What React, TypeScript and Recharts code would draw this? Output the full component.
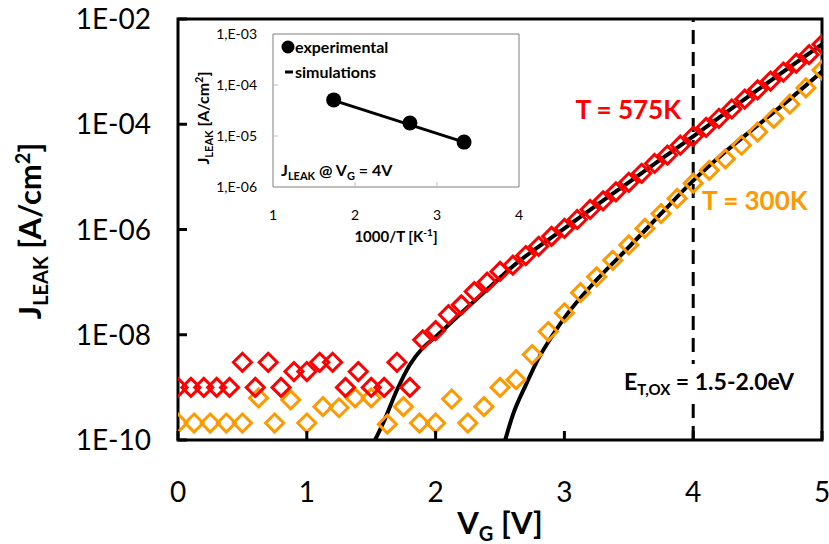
import React from 'react';
import {
  ComposedChart,
  XAxis,
  YAxis,
  Scatter,
  Line,
  ReferenceArea,
  ReferenceLine,
} from 'recharts';

// Leakage current density vs gate voltage, measured at two temperatures
const RED_V = [
  0, 0.1, 0.2, 0.3, 0.4, 0.5, 0.6, 0.7, 0.8, 0.9,
  1.0, 1.1, 1.2, 1.3, 1.4, 1.5, 1.6, 1.7, 1.8, 1.9,
  2.0, 2.1, 2.2, 2.3, 2.4, 2.5, 2.6, 2.7, 2.8, 2.9,
  3.0, 3.1, 3.2, 3.3, 3.4, 3.5, 3.6, 3.7, 3.8, 3.9,
  4.0, 4.1, 4.2, 4.3, 4.4, 4.5, 4.6, 4.7, 4.8, 4.9,
  5.0,
];
const RED_J = [
  1e-9, 1e-9, 1e-9, 1e-9, 1e-9, 3e-9, 1e-9, 3e-9, 1e-9, 2e-9,
  2e-9, 3e-9, 3e-9, 1e-9, 2e-9, 1e-9, 1e-9, 3e-9, 1e-9, 8e-9,
  1.2e-8, 2.4e-8, 3.7e-8, 6.6e-8, 1.0e-7, 1.6e-7, 2.1e-7, 3.2e-7, 4.8e-7, 7.4e-7,
  1.05e-6, 1.55e-6, 2.4e-6, 3.5e-6, 5.2e-6, 7.9e-6, 1.17e-5, 1.8e-5, 2.6e-5, 4.0e-5,
  5.9e-5, 8.7e-5, 1.3e-4, 1.95e-4, 3.0e-4, 4.5e-4, 6.6e-4, 9.8e-4, 1.45e-3, 2.1e-3,
  3.3e-3,
];

const ORANGE_V = [
  0, 0.125, 0.25, 0.375, 0.5, 0.625, 0.75, 0.875,
  1.0, 1.125, 1.25, 1.375, 1.5, 1.625, 1.75, 1.875,
  2.0, 2.125, 2.25, 2.375, 2.5, 2.625, 2.75, 2.875,
  3.0, 3.125, 3.25, 3.375, 3.5, 3.625, 3.75, 3.875,
  4.0, 4.125, 4.25, 4.375, 4.5, 4.625, 4.75, 4.875,
  5.0,
];
const ORANGE_J = [
  2.1e-10, 2.1e-10, 2.1e-10, 2.1e-10, 2.1e-10, 6.3e-10, 2.1e-10, 5.8e-10,
  2.1e-10, 4.3e-10, 4.1e-10, 6.3e-10, 6.3e-10, 2.0e-10, 4.3e-10, 2.1e-10,
  2.1e-10, 6.0e-10, 2.1e-10, 4.3e-10, 1.0e-9, 1.4e-9, 4.2e-9, 1.15e-8,
  2.6e-8, 6.3e-8, 1.26e-7, 2.6e-7, 5.1e-7, 1.05e-6, 2.0e-6, 3.9e-6,
  7.6e-6, 1.33e-5, 2.2e-5, 4.0e-5, 7.1e-5, 1.3e-4, 2.4e-4, 4.9e-4,
  1.07e-3,
];

// simulated curves
const SIM575_V = [1.53, 1.6, 1.7, 1.8, 1.9, 2.0, 2.2, 2.4, 2.6, 3.0, 3.5, 4.0, 4.5, 5.0];
const SIM575_J = [1e-10, 2.3e-10, 8.9e-10, 2.7e-9, 5.6e-9, 9.1e-9, 2.6e-8, 7.2e-8, 2.0e-7, 1.05e-6, 7.9e-6, 5.9e-5, 4.5e-4, 3.3e-3];
const SIM300_V = [2.54, 2.6, 2.7, 2.8, 2.9, 3.0, 3.25, 3.5, 3.75, 4.0, 4.25, 4.5, 4.75, 5.0];
const SIM300_J = [1e-10, 3.0e-10, 1.1e-9, 3.6e-9, 9.1e-9, 2.1e-8, 1.1e-7, 4.6e-7, 2.0e-6, 8.5e-6, 3.0e-5, 9.5e-5, 3.0e-4, 1.0e-3];

const X_TICKS = [0, 1, 2, 3, 4, 5];
const X_TICK_LABELS = ['0', '1', '2', '3', '4', '5'];
const Y_TICKS = [1e-10, 1e-8, 1e-6, 1e-4, 1e-2];
const Y_TICK_LABELS = ['1E-10', '1E-08', '1E-06', '1E-04', '1E-02'];

// inset: J at VG = 4V vs 1000/T
const INSET_T = [1.74, 2.67, 3.33];
const INSET_J = [5.1e-5, 1.8e-5, 7.6e-6];
const INSET_SIM_T = [1.74, 3.33];
const INSET_SIM_J = [5.0e-5, 7.6e-6];
const INSET_X_TICKS = [1, 2, 3, 4];
const INSET_X_LABELS = ['1', '2', '3', '4'];
const INSET_Y_TICKS = [1e-6, 1e-5, 1e-4, 1e-3];
const INSET_Y_LABELS = ['1,E-06', '1,E-05', '1,E-04', '1,E-03'];

const FONT = "Lato, 'Open Sans', sans-serif";
const RED = '#ff0000';
const ORANGE = '#ff9900';

const toPoints = (xs: number[], ys: number[], key = 'v') => xs.map((x, i) => ({ [key]: x, j: ys[i] }));

const redData = toPoints(RED_V, RED_J);
const orangeData = toPoints(ORANGE_V, ORANGE_J);
const sim575 = toPoints(SIM575_V, SIM575_J);
const sim300 = toPoints(SIM300_V, SIM300_J);
const insetExp = toPoints(INSET_T, INSET_J, 't');
const insetSim = toPoints(INSET_SIM_T, INSET_SIM_J, 't');

const diamond = (color: string) => (props: any) => {
  const { cx, cy } = props;
  if (cx == null || cy == null) return <g />;
  const r = 9;
  return (
    <path
      d={`M${cx},${cy - r}L${cx + r},${cy}L${cx},${cy + r}L${cx - r},${cy}Z`}
      fill="none"
      stroke={color}
      strokeWidth={3}
    />
  );
};

const XTick = (props: any) => {
  const { x, y, index } = props;
  return (
    <g>
      <line x1={x} x2={x} y1={y} y2={y - 9} stroke="#000" strokeWidth={3} />
      <text x={x} y={y + 62} textAnchor="middle" fontFamily={FONT} fontSize={28} fill="#000">
        {X_TICK_LABELS[index]}
      </text>
    </g>
  );
};

const YTick = (props: any) => {
  const { x, y, index } = props;
  return (
    <g>
      <line x1={x} x2={x + 9} y1={y} y2={y} stroke="#000" strokeWidth={3} />
      <text x={x - 27} y={y + 10} textAnchor="end" fontFamily={FONT} fontSize={28} fill="#000">
        {Y_TICK_LABELS[index]}
      </text>
    </g>
  );
};

const InsetXTick = (props: any) => {
  const { x, y, index } = props;
  return (
    <g>
      {index > 0 && index < INSET_X_TICKS.length - 1 && (
        <line x1={x} x2={x} y1={y} y2={y - 5} stroke="#bfbfbf" strokeWidth={1} />
      )}
      <text x={x} y={y + 33} textAnchor="middle" fontFamily={FONT} fontSize={14} fill="#000">
        {INSET_X_LABELS[index]}
      </text>
    </g>
  );
};

const InsetYTick = (props: any) => {
  const { x, y, index } = props;
  return (
    <g>
      {index > 0 && index < INSET_Y_TICKS.length - 1 && (
        <line x1={x} x2={x + 5} y1={y} y2={y} stroke="#bfbfbf" strokeWidth={1} />
      )}
      <text x={x - 16} y={y + 5} textAnchor="end" fontFamily={FONT} fontSize={14} fill="#000">
        {INSET_Y_LABELS[index]}
      </text>
    </g>
  );
};

const insetDot = (props: any) => {
  const { cx, cy } = props;
  if (cx == null || cy == null) return <g />;
  return <circle cx={cx} cy={cy} r={7.5} fill="#000" />;
};

export default function App() {
  return (
    <div style={{ position: 'absolute', left: 0, top: 0, width: 829, height: 544, background: '#fff', fontFamily: FONT }}>
      <ComposedChart width={829} height={544} margin={{ top: 19, right: 7, bottom: 0, left: 0 }}>
        <XAxis
          type="number"
          dataKey="v"
          domain={[0, 5]}
          ticks={X_TICKS}
          interval={0}
          height={104}
          axisLine={false}
          tickLine={false}
          tickSize={0}
          tickMargin={0}
          tick={<XTick />}
          allowDataOverflow
        />
        <YAxis
          type="number"
          dataKey="j"
          scale="log"
          domain={[1e-10, 1e-2]}
          ticks={Y_TICKS}
          interval={0}
          width={178}
          axisLine={false}
          tickLine={false}
          tickSize={0}
          tickMargin={0}
          tick={<YTick />}
          allowDataOverflow
        />
        <ReferenceArea x1={0} x2={5} y1={1e-10} y2={1e-2} fill="none" stroke="#000" strokeWidth={3} ifOverflow="visible" />
        <ReferenceLine x={4} stroke="#000" strokeWidth={3} strokeDasharray="14 8" />
        <Line data={sim575} dataKey="j" type="monotone" stroke="#000" strokeWidth={4} dot={false} isAnimationActive={false} />
        <Line data={sim300} dataKey="j" type="monotone" stroke="#000" strokeWidth={4} dot={false} isAnimationActive={false} />
        <Scatter data={orangeData} dataKey="j" shape={diamond(ORANGE)} isAnimationActive={false} />
        <Scatter data={redData} dataKey="j" shape={diamond(RED)} isAnimationActive={false} />
      </ComposedChart>

      <div style={{ position: 'absolute', left: 180, top: 20 }}>
        <ComposedChart width={345} height={230} margin={{ top: 14, right: 6, bottom: 0, left: 0 }}>
          <XAxis
            type="number"
            dataKey="t"
            domain={[1, 4]}
            ticks={INSET_X_TICKS}
            interval={0}
            height={63}
            axisLine={false}
            tickLine={false}
            tickSize={0}
            tickMargin={0}
            tick={<InsetXTick />}
          />
          <YAxis
            type="number"
            dataKey="j"
            scale="log"
            domain={[1e-6, 1e-3]}
            ticks={INSET_Y_TICKS}
            interval={0}
            width={93}
            axisLine={false}
            tickLine={false}
            tickSize={0}
            tickMargin={0}
            tick={<InsetYTick />}
            allowDataOverflow
          />
          <ReferenceArea x1={1} x2={4} y1={1e-6} y2={1e-3} fill="none" stroke="#7f7f7f" strokeWidth={1} ifOverflow="visible" />
          <Line data={insetSim} dataKey="j" stroke="#000" strokeWidth={3} dot={false} isAnimationActive={false} />
          <Scatter data={insetExp} dataKey="j" shape={insetDot} isAnimationActive={false} />
        </ComposedChart>
      </div>

      <svg width={829} height={544} style={{ position: 'absolute', left: 0, top: 0, pointerEvents: 'none' }} fontFamily={FONT}>
        {/* axis titles */}
        <text transform="translate(41,231) rotate(-90)" textAnchor="middle" fontSize={31} fontWeight={700}>
          J<tspan dy={7} fontSize={20}>LEAK</tspan>
          <tspan dy={-7}> [A/cm</tspan>
          <tspan dy={-11} fontSize={20}>2</tspan>
          <tspan dy={11}>]</tspan>
        </text>
        <text x={500} y={534} textAnchor="middle" fontSize={31} fontWeight={700}>
          V<tspan dy={7} fontSize={20}>G</tspan>
          <tspan dy={-7}> [V]</tspan>
        </text>

        {/* annotations */}
        <text x={681} y={119} textAnchor="end" fontSize={26} fontWeight={700} fill={RED}>T = 575K</text>
        <text x={702} y={210} fontSize={26} fontWeight={700} fill={ORANGE}>T = 300K</text>
        <rect x={619} y={364} width={188} height={36} fill="#fff" />
        <text x={624} y={390} fontSize={23} fontWeight={700}>
          E<tspan dy={5} fontSize={15}>T,OX</tspan>
          <tspan dy={-5}> = 1.5-2.0eV</tspan>
        </text>

        {/* inset legend and labels */}
        <circle cx={288} cy={47} r={6.5} fill="#000" />
        <text x={295} y={53} fontSize={16} fontWeight={700}>experimental</text>
        <line x1={285} x2={293} y1={72} y2={72} stroke="#000" strokeWidth={3} />
        <text x={295} y={78} fontSize={16} fontWeight={700}>simulations</text>
        <text x={281} y={176} fontSize={16} fontWeight={700}>
          J<tspan dy={4} fontSize={11}>LEAK</tspan>
          <tspan dy={-4}> @ V</tspan>
          <tspan dy={4} fontSize={11}>G</tspan>
          <tspan dy={-4}> = 4V</tspan>
        </text>
        <text transform="translate(209,118) rotate(-90)" textAnchor="middle" fontSize={16} fontWeight={700}>
          J<tspan dy={4} fontSize={11}>LEAK</tspan>
          <tspan dy={-4}> [A/cm</tspan>
          <tspan dy={-6} fontSize={11}>2</tspan>
          <tspan dy={6}>]</tspan>
        </text>
        <text x={396} y={242} textAnchor="middle" fontSize={15} fontWeight={700}>
          1000/T [K<tspan dy={-6} fontSize={10}>-1</tspan>
          <tspan dy={6}>]</tspan>
        </text>
      </svg>
    </div>
  );
}
